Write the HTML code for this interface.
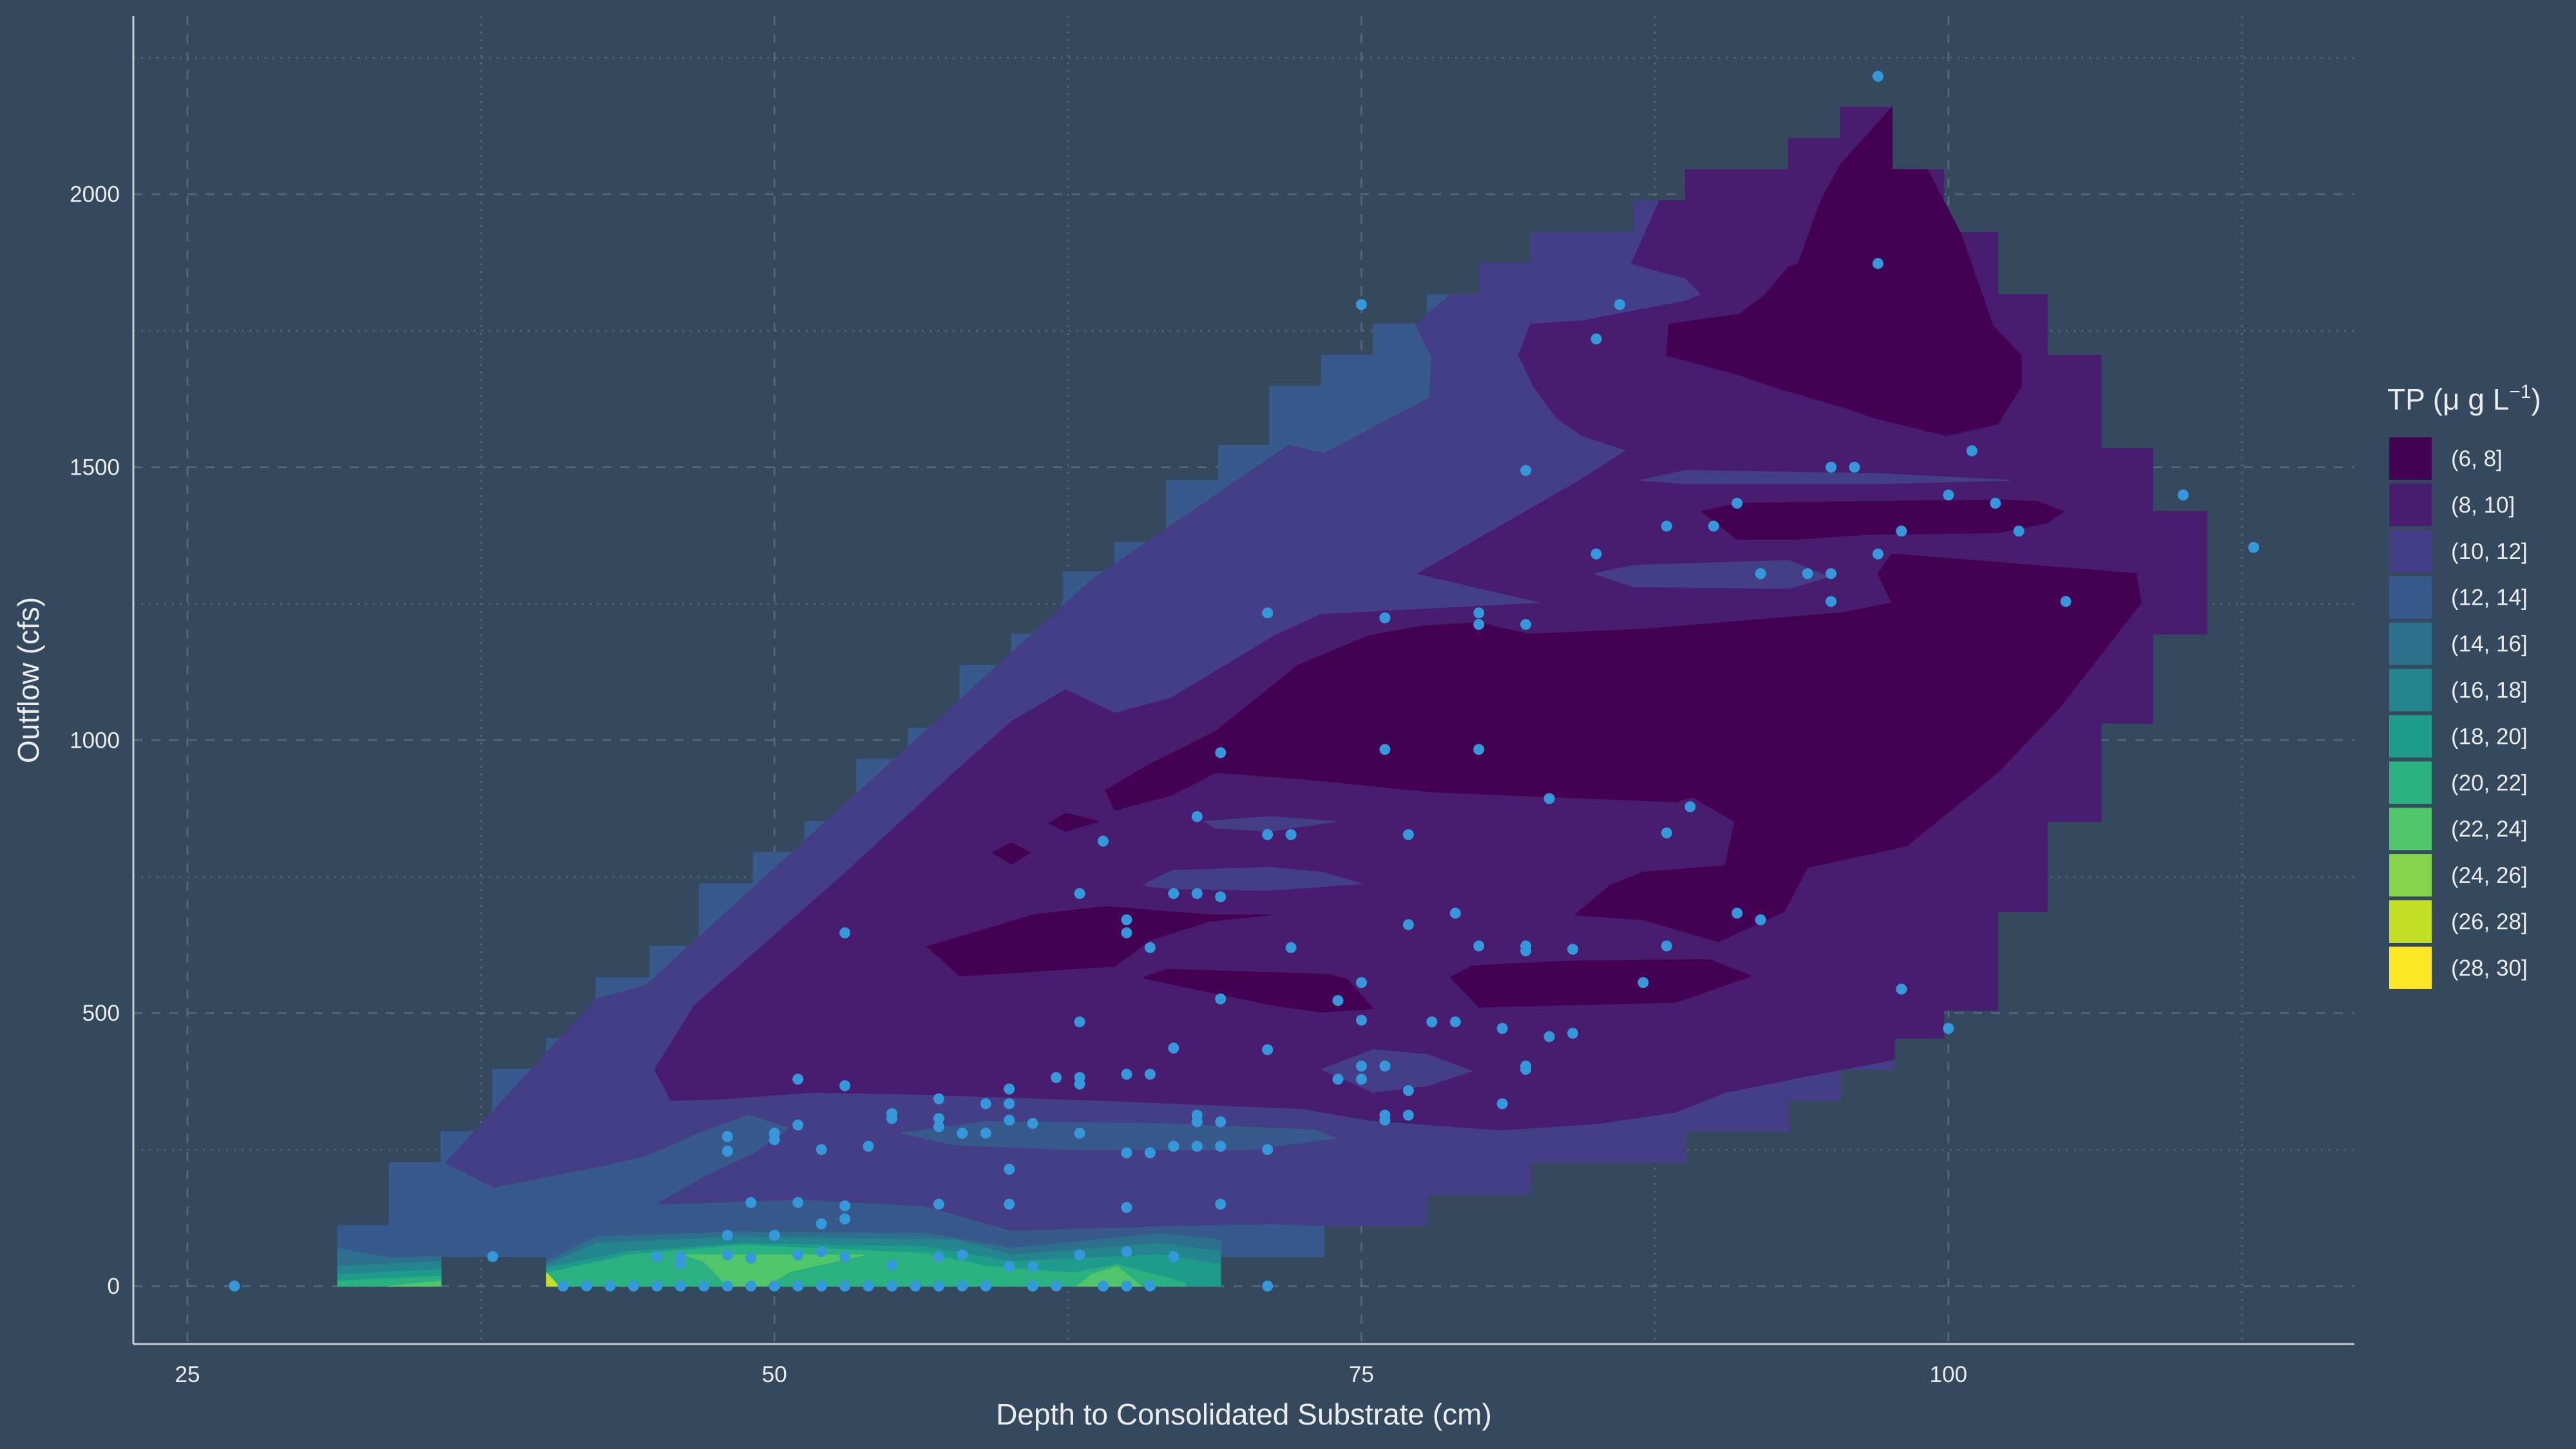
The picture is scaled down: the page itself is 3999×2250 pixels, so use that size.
<!DOCTYPE html>
<html><head><meta charset="utf-8"><title>TP contour</title>
<style>
html,body{margin:0;padding:0;background:#34495e;}
svg{display:block;}
text{font-family:"Liberation Sans",Arial,sans-serif;fill:#ececec;}
</style></head>
<body>
<svg id="chart" xmlns="http://www.w3.org/2000/svg" width="3999" height="2250" viewBox="0 0 3999 2250">
<rect x="0" y="0" width="3999" height="2250" fill="#34495e"/>
<g id="grid"></g>
<g id="contours"></g>
<g id="points"></g>
<g id="axes"></g>
<g id="legend"></g>
</svg>
<script>
// ---- data ----
const xTicks = [25, 50, 75, 100];
const xMinor = [37.5, 62.5, 87.5, 112.5];
const yTicks = [0, 500, 1000, 1500, 2000];
const yMinor = [250, 750, 1250, 1750, 2250];
const legendLabels = ["(6, 8]","(8, 10]","(10, 12]","(12, 14]","(14, 16]","(16, 18]","(18, 20]","(20, 22]","(22, 24]","(24, 26]","(26, 28]","(28, 30]"];
const legendColors = ["#440154","#481c6e","#433e85","#38598c","#2d708e","#25858e","#1e9b8a","#2bb07f","#51c56a","#85d54a","#c2df23","#fde725"];

// contour bands [depth, outflow], level index into legendColors
const envelope = [[31.4,0],[31.4,111],[33.6,111],[33.6,226],[35.8,226],[35.8,283],[38.0,283],[38.0,397],[40.3,397],[40.3,454],[42.4,454],[42.4,565],[44.7,565],[44.7,622],[46.8,622],[46.8,737],[49.1,737],[49.1,794],[51.3,794],[51.3,851],[53.5,851],[53.5,965],[55.7,965],[55.7,1022],[57.9,1022],[57.9,1137],[60.1,1137],[60.1,1194],[62.3,1194],[62.3,1308],[64.5,1308],[64.5,1362],[66.7,1362],[66.7,1476],[68.9,1476],[68.9,1540],[71.1,1540],[71.1,1648],[73.3,1648],[73.3,1705],[75.5,1705],[75.5,1762],[77.8,1762],[77.8,1816],[80.0,1816],[80.0,1873],[82.2,1873],[82.2,1930],[86.6,1930],[86.6,1988],[88.8,1988],[88.8,2045],[93.2,2045],[93.2,2102],[95.4,2102],[95.4,2159],[97.6,2159],[97.6,2045],[99.8,2045],[99.8,1930],[102.1,1930],[102.1,1816],[104.2,1816],[104.2,1705],[106.5,1705],[106.5,1534],[108.7,1534],[108.7,1419],[111.0,1419],[111.0,1194],[108.7,1194],[108.7,1031],[106.5,1031],[106.5,851],[104.2,851],[104.2,686],[102.1,686],[102.1,505],[99.8,505],[99.8,454],[97.7,454],[97.7,397],[95.4,397],[95.4,340],[93.2,340],[93.2,283],[88.8,283],[88.8,226],[82.2,226],[82.2,168],[77.8,168],[77.8,111],[73.4,111],[73.4,54],[69.0,54],[69.0,0],[40.3,0],[40.3,54],[35.8,54],[35.8,0]];

const band10 = [[36.0,226],[42.4,526],[44.5,550],[63.5,1293],[71.9,1540],[73.4,1525],[77.9,1627],[78.0,1702],[77.3,1762],[78.8,1816],[80.0,1816],[80.0,1873],[82.2,1873],[82.2,1930],[86.6,1930],[86.6,1988],[88.8,1988],[88.8,2045],[93.2,2045],[93.2,2102],[95.4,2102],[95.4,2159],[97.6,2159],[97.6,2045],[99.8,2045],[99.8,1930],[102.1,1930],[102.1,1816],[104.2,1816],[104.2,1705],[106.5,1705],[106.5,1534],[108.7,1534],[108.7,1419],[111.0,1419],[111.0,1194],[108.7,1194],[108.7,1031],[106.5,1031],[106.5,851],[104.2,851],[104.2,686],[102.1,686],[102.1,505],[99.8,505],[99.8,454],[97.7,454],[97.7,397],[95.4,397],[95.4,340],[93.2,340],[93.2,283],[88.8,283],[88.8,226],[82.2,226],[82.2,168],[77.8,168],[77.8,111],[73.4,111],[71.3,114],[66.9,111],[60.1,102],[56.4,147],[51.2,159],[44.9,150],[42.4,180],[38.1,180]];

const band12a = [[38.1,180],[42.5,217],[44.6,238],[46.8,280],[48.9,313],[50.6,289],[49.1,244],[47.1,204],[44.9,150],[42.4,180]];
const band12b = [[55.4,280],[59.0,301],[66.0,298],[73.0,286],[73.9,271],[70.2,250],[62.5,250],[57.6,259]];

const band8 = [[45.6,340],[44.9,397],[46.6,514],[52.9,752],[57.9,950],[60.1,1034],[62.4,1092],[64.5,1049],[66.9,1077],[71.3,1191],[73.3,1230],[82.8,1251],[77.4,1305],[84.2,1473],[86.3,1531],[84.4,1558],[83.3,1591],[82.3,1651],[81.7,1705],[82.2,1762],[84.4,1768],[88.8,1804],[89.5,1816],[88.8,1846],[86.5,1873],[87.7,1988],[88.8,1988],[88.8,2045],[93.2,2045],[93.2,2102],[95.4,2102],[95.4,2159],[97.6,2159],[97.6,2045],[99.8,2045],[99.8,1930],[102.1,1930],[102.1,1816],[104.2,1816],[104.2,1705],[106.5,1705],[106.5,1534],[108.7,1534],[108.7,1419],[111.0,1419],[111.0,1194],[108.7,1194],[108.7,1031],[106.5,1031],[106.5,851],[104.2,851],[104.2,686],[102.1,686],[102.1,505],[99.8,505],[99.8,454],[97.7,454],[97.7,415],[94.0,385],[90.5,355],[88.4,319],[85.1,298],[80.9,286],[75.3,304],[72.5,325],[64.1,340],[55.7,352],[51.5,355],[47.8,343]];

const lens10a = [[68.3,851],[71.1,860],[73.9,851],[71.1,833],[68.8,839]];
const lens10b = [[65.7,734],[66.9,761],[71.1,767],[73.3,758],[75.0,737],[71.1,725],[66.9,728]];
const lens10c = [[73.3,397],[75.5,433],[77.8,424],[79.7,394],[77.8,367],[75.5,355]];
const lens10d = [[86.9,1476],[88.8,1494],[97.1,1488],[102.6,1476],[97.1,1470],[88.8,1470]];
const lens10e = [[84.9,1305],[86.6,1320],[93.2,1329],[94.9,1299],[93.2,1278],[86.6,1281]];

const band6top = [[88.0,1705],[88.1,1762],[91.1,1780],[92.2,1816],[93.2,1867],[93.6,1873],[94.6,1991],[95.4,2054],[97.6,2159],[97.6,2045],[99.1,2045],[100.5,1930],[101.9,1759],[103.1,1705],[103.1,1648],[102.1,1579],[99.9,1558],[96.8,1591],[95.6,1609],[92.5,1648],[91.1,1669]];
const band6strip = [[89.5,1419],[91.1,1434],[102.1,1440],[103.8,1437],[104.9,1419],[104.2,1398],[102.1,1380],[96.5,1377],[93.5,1368],[91.0,1368]];
const band6big = [[64.1,908],[66.0,956],[68.8,1016],[72.3,1137],[75.3,1191],[77.6,1209],[80.0,1215],[82.1,1194],[87.0,1203],[95.4,1233],[97.6,1251],[97.0,1305],[97.6,1341],[108.0,1305],[108.2,1251],[104.7,1058],[102.1,941],[98.2,806],[94.0,767],[93.0,686],[90.2,631],[87.0,671],[84.1,680],[85.6,734],[87.0,758],[90.5,770],[90.9,851],[89.1,896],[88.4,887],[78.1,905],[72.5,929],[68.8,941],[66.9,899],[64.5,872]];
const band6mid = [[56.5,622],[57.9,568],[64.5,586],[66.0,634],[68.5,668],[71.1,680],[68.5,680],[64.1,695],[61.0,680],[59.9,665]];
const band6low = [[65.7,565],[66.7,580],[73.6,571],[74.4,562],[75.5,508],[73.3,502],[71.3,514],[66.9,553]];
const band6right = [[78.8,565],[79.7,586],[83.7,595],[89.8,598],[91.6,568],[89.8,541],[88.4,520],[80.0,511]];
const band6dotA = [[61.7,848],[62.4,866],[63.8,851],[62.4,833]];
const band6dotB = [[59.3,794],[60.1,812],[60.9,794],[60.1,773]];

const band14 = [[40.3,45],[42.4,90],[48.6,99],[56.4,96],[60.1,69],[66.4,96],[69.0,84],[69.0,0],[40.3,0]];
const band16 = [[40.3,39],[42.4,78],[48.6,90],[57.8,84],[60.1,57],[66.4,78],[69.0,63],[69.0,0],[40.3,0]];
const band18 = [[40.3,33],[43.8,63],[48.6,78],[56.4,72],[60.1,45],[66.4,57],[69.0,39],[69.0,0],[40.3,0]];
const band20 = [[40.3,24],[43.8,57],[48.6,75],[56.4,60],[59.1,36],[62.7,24],[64.6,39],[67.5,6],[67.5,0],[40.3,0]];
const band22a = [[46.2,57],[53.8,57],[50.7,27],[49.6,0],[48.0,0],[47.0,45]];
const band22b = [[63.5,21],[64.6,36],[65.6,0],[62.9,0]];
const leftBand14 = [[31.4,69],[33.6,51],[35.8,54],[35.8,0],[31.4,0]];
const leftBand16 = [[31.4,36],[35.8,45],[35.8,0],[31.4,0]];
const leftBand18 = [[31.4,21],[35.8,30],[35.8,0],[31.4,0]];
const leftBand20 = [[31.4,9],[35.8,18],[35.8,0],[31.4,0]];
const leftBand22 = [[33.6,0],[35.8,9],[35.8,0]];
const band26 = [[40.3,24],[40.8,0],[40.3,0]];

// scatter observations
const depthVals = [97,97,75,86,85,82,95,96,101,110,100,102,91,88,90,98,103,97,85,113,92,94,95,95,105,71,76,80,80,82,
76,80,69,83,89,68,64,71,72,77,88,63,67,68,69,91,92,65,65,53,77,79,66,72,80,82,82,84,88,87,98,69,74,75,75,78,79,81,83,84,100,63,82,82,71,67,75,76,74,75,77,81,76,76,77,66,65,63,63,60,60,59,62,57,51,53,57,55,55,60,61,57,58,59,63,51,48,50,50,48,52,54,65,66,67,68,69,71,68,68,69,60,65,69,57,60,49,51,53,53,52,38,48,50,46,46,45,48,49,51,52,53,55,57,58,60,61,63,65,67,27,71,
41,42,43,44,45,46,47,48,49,50,51,52,53,54,55,56,57,58,59,61,62,64,65,66];
const flowVals = [2216,1873,1798,1798,1735,1494,1500,1500,1530,1449,1449,1434,1434,1392,1392,1383,1383,1341,1341,1353,1305,1305,1305,1254,1254,1233,1224,1233,1212,1212,
983,983,977,893,878,860,815,827,827,827,830,719,719,719,713,683,671,671,647,647,662,683,620,620,623,623,614,617,623,556,544,526,523,556,487,484,484,472,457,463,472,484,403,397,433,436,403,403,379,379,358,334,313,304,313,388,388,382,370,361,334,334,382,343,379,367,307,316,307,304,298,292,280,280,280,295,274,280,268,247,250,256,244,244,256,256,256,250,313,301,301,214,144,150,150,150,153,153,147,123,114,54,93,93,54,42,54,57,51,57,63,54,39,54,57,36,36,57,63,54,0,0,
0,0,0,0,0,0,0,0,0,0,0,0,0,0,0,0,0,0,0,0,0,0,0,0];

// ---- scales ----
const X0 = 291, XS = 36.45, Y0 = 1997, YS = 0.8477;
function sx(v){ return X0 + (v - 25) * XS; }
function sy(v){ return Y0 - v * YS; }
const NS = "http://www.w3.org/2000/svg";
function mk(tag, attrs, parent){
  const el = document.createElementNS(NS, tag);
  for (const k in attrs) el.setAttribute(k, attrs[k]);
  parent.appendChild(el);
  return el;
}

// ---- grid ----
const grid = document.getElementById('grid');
xTicks.forEach(v => {
  const l = mk('line', {x1: sx(v), x2: sx(v), y1: 25, y2: 2087, stroke: '#51667a', 'stroke-width': 3, 'stroke-dasharray': '14 14'}, grid);
  
  
});
xMinor.forEach(v => {
  const l = mk('line', {x1: sx(v), x2: sx(v), y1: 25, y2: 2087, stroke: '#51667a', 'stroke-width': 3, 'stroke-dasharray': '3 9'}, grid);
  
  
});
yTicks.forEach(v => {
  const l = mk('line', {x1: 207, x2: 3655, y1: sy(v), y2: sy(v), stroke: '#51667a', 'stroke-width': 3, 'stroke-dasharray': '14 14'}, grid);
  
  
});
yMinor.forEach(v => {
  const l = mk('line', {x1: 207, x2: 3655, y1: sy(v), y2: sy(v), stroke: '#51667a', 'stroke-width': 3, 'stroke-dasharray': '3 9'}, grid);
  
  
});

// ---- contours ----
const cg = document.getElementById('contours');
function poly(arr, level, name){
  const pts = arr.map(p => sx(p[0]).toFixed(1) + ',' + sy(p[1]).toFixed(1)).join(' ');
  const c = legendColors[level];
  const el = mk('polygon', {points: pts, fill: c, stroke: c, 'stroke-width': 1.5, 'stroke-linejoin': 'round'}, cg);
  
  
}
poly(envelope, 3, 'contour-band-12-14');
poly(band10, 2, 'contour-band-10-12');
poly(band12a, 3, 'contour-band-12-14-lobe');
poly(band12b, 3, 'contour-band-12-14-lens');
poly(band8, 1, 'contour-band-8-10');
[lens10a, lens10b, lens10c, lens10d, lens10e].forEach(a => poly(a, 2, 'contour-band-10-12-lens'));
[band6top, band6strip, band6big, band6mid, band6low, band6right, band6dotA, band6dotB].forEach(a => poly(a, 0, 'contour-band-6-8'));
poly(band14, 4, 'contour-band-14-16');
poly(band16, 5, 'contour-band-16-18');
poly(band18, 6, 'contour-band-18-20');
poly(band20, 7, 'contour-band-20-22');
poly(band22a, 8, 'contour-band-22-24');
poly(band22b, 8, 'contour-band-22-24');
poly(leftBand14, 4, 'contour-band-14-16-left');
poly(leftBand16, 5, 'contour-band-16-18-left');
poly(leftBand18, 6, 'contour-band-18-20-left');
poly(leftBand20, 7, 'contour-band-20-22-left');
poly(leftBand22, 8, 'contour-band-22-24-left');
poly(band26, 10, 'contour-band-26-28');

// ---- points ----
const pg = document.getElementById('points');
depthVals.forEach((d, i) => {
  const c = mk('circle', {cx: sx(d), cy: sy(flowVals[i]), r: 8.5, fill: '#3498db'}, pg);
  
  
});

// ---- axes ----
const ax = document.getElementById('axes');
let e = mk('line', {x1: 207, x2: 207, y1: 25, y2: 2087, stroke: '#c9ccd0', 'stroke-width': 3}, ax);


e = mk('line', {x1: 207, x2: 3655, y1: 2087, y2: 2087, stroke: '#c9ccd0', 'stroke-width': 3}, ax);


xTicks.forEach(v => {
  const t = mk('text', {x: sx(v), y: 2146, 'font-size': 35, 'text-anchor': 'middle'}, ax);
  t.textContent = v;
  
  
});
yTicks.forEach(v => {
  const t = mk('text', {x: 186, y: sy(v) + 12, 'font-size': 35, 'text-anchor': 'end'}, ax);
  t.textContent = v;
  
  
});
e = mk('text', {x: 1931, y: 2212, 'font-size': 46, 'text-anchor': 'middle'}, ax);
e.textContent = 'Depth to Consolidated Substrate (cm)';


e = mk('text', {x: 0, y: 0, 'font-size': 46, 'text-anchor': 'middle', transform: 'translate(60,1056) rotate(-90)'}, ax);
e.textContent = 'Outflow (cfs)';



// ---- legend ----
const lg = document.getElementById('legend');
e = mk('text', {x: 3706, y: 636, 'font-size': 46}, lg);
e.innerHTML = 'TP (\u03bc g L<tspan font-size="30" dy="-18">\u22121</tspan><tspan dy="18">)</tspan>';


legendLabels.forEach((lab, i) => {
  const y = 679 + i * 71.9;
  const r = mk('rect', {x: 3709, y: y, width: 66, height: 66, fill: legendColors[i]}, lg);
  
  
  const t = mk('text', {x: 3805, y: y + 45, 'font-size': 35}, lg);
  t.textContent = lab;
  
  
});
</script>
</body></html>
